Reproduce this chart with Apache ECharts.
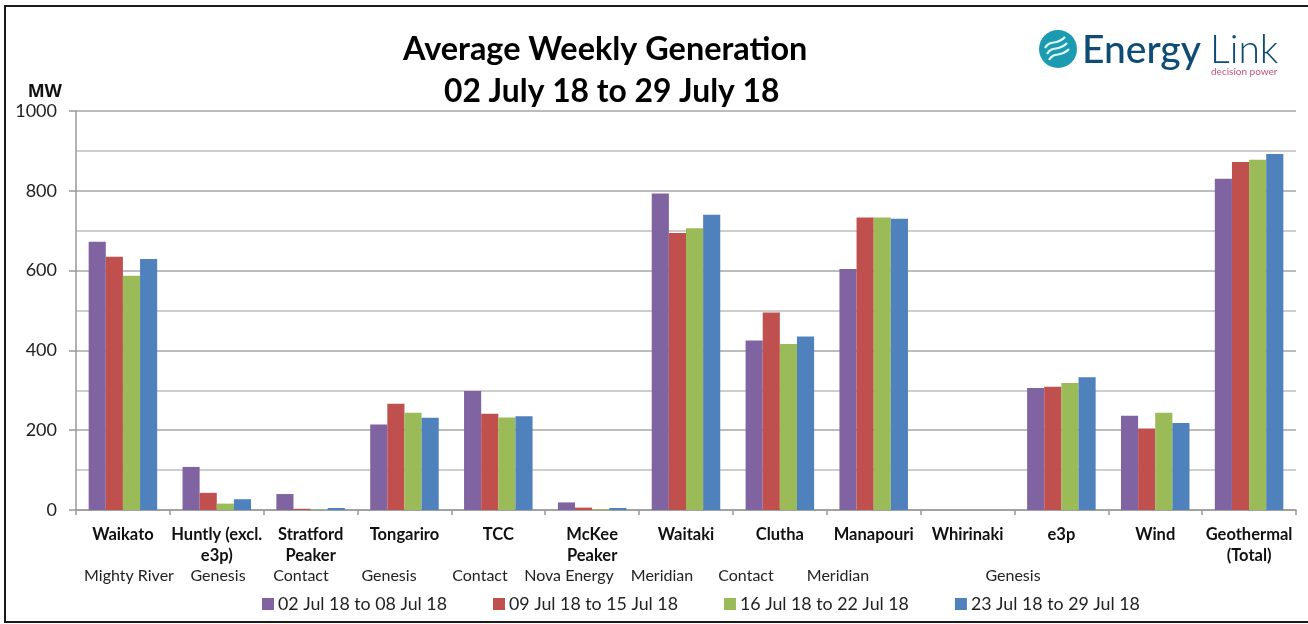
<!DOCTYPE html>
<html>
<head>
<meta charset="utf-8">
<style>
  html, body { margin: 0; padding: 0; background: #fff; }
  #chart { width: 1308px; height: 624px; }
</style>
<script src="https://cdn.jsdelivr.net/npm/echarts@6/dist/echarts.min.js"></script>
</head>
<body>
<div id="chart"></div>
<script>
const stations = ['Waikato', 'Huntly (excl.\ne3p)', 'Stratford\nPeaker', 'Tongariro', 'TCC', 'McKee\nPeaker', 'Waitaki', 'Clutha', 'Manapouri', 'Whirinaki', 'e3p', 'Wind', 'Geothermal\n(Total)']
const week1 = [672, 108, 40, 214, 298, 19, 793, 425, 604, 0, 306, 236, 830]
const week2 = [635, 43, 3, 266, 241, 6, 694, 495, 733, 0, 309, 204, 872]
const week3 = [587, 16, 1, 244, 232, 2, 706, 416, 733, 0, 318, 244, 878]
const week4 = [629, 27, 5, 231, 235, 5, 740, 435, 730, 0, 333, 218, 892]
const weekNames = ['02 Jul 18 to 08 Jul 18', '09 Jul 18 to 15 Jul 18', '16 Jul 18 to 22 Jul 18', '23 Jul 18 to 29 Jul 18']
const owners = ['Mighty River', 'Genesis', 'Contact', 'Genesis', 'Contact', 'Nova Energy', 'Meridian', 'Contact', 'Meridian', 'Genesis']
const ownerCentres = [129, 218, 301, 389, 480, 569, 662, 746, 838, 1013]

const font = 'Lato, Carlito, sans-serif'
const colors = ['#8064a2', '#c0504d', '#9bbb59', '#4f81bd']

function bars(name, values) {
    return { name: name, type: 'bar', data: values, barGap: 0, barCategoryGap: '27%' }
}

function titleLine(text, x, y, size) {
    return {
        text: text,
        left: x,
        top: y,
        textStyle: { fontFamily: font, fontSize: size, fontWeight: 'bold', color: '#000' }
    }
}

function wave(x, y) {
    return {
        type: 'bezierCurve',
        shape: { x1: x, y1: y, cpx1: x + 5, cpy1: y - 9, cpx2: x + 12, cpy2: y - 2, x2: x + 20, y2: y - 11 },
        style: { fill: 'none', stroke: '#e3f4f6', lineWidth: 2.2 }
    }
}

const ownerLabels = owners.map((o, i) => ({
    type: 'text',
    x: ownerCentres[i],
    y: 576,
    style: { text: o, font: '16px ' + font, fill: '#222', align: 'center', verticalAlign: 'middle' }
}))

// logo, top right
const logo = [
    { type: 'circle', shape: { cx: 1058, cy: 49, r: 19 }, style: { fill: '#1b9bb0' } },
    wave(1045, 48),
    wave(1047, 54),
    wave(1049, 60),
    { type: 'text', x: 1082, y: 50, style: { text: 'Energy', font: '500 39px ' + font, fill: '#0f4c75', verticalAlign: 'middle' } },
    { type: 'text', x: 1210, y: 50, style: { text: 'Link', font: '300 39px ' + font, fill: '#0f4c75', verticalAlign: 'middle' } },
    { type: 'text', x: 1211, y: 72, style: { text: 'decision power', font: '10px ' + font, fill: '#c0567a', verticalAlign: 'middle' } }
]

const chart = echarts.init(document.getElementById('chart'))
chart.setOption({
    animation: false,
    color: colors,
    textStyle: { fontFamily: font },
    title: [
        titleLine('Average Weekly Generation', 398, 29, 32.4),
        titleLine('02 July 18 to 29 July 18', 439, 71, 31.8)
    ],
    legend: {
        data: weekNames,
        left: 257,
        top: 590,
        itemWidth: 12,
        itemHeight: 12,
        itemGap: 46,
        icon: 'rect',
        textStyle: { fontFamily: font, fontSize: 17.8, color: '#222', padding: [0, 0, 0, -1] }
    },
    grid: { left: 76, right: 12, top: 111, bottom: 114 },
    xAxis: {
        type: 'category',
        data: stations,
        axisLine: { lineStyle: { color: '#999', width: 1.5 } },
        axisTick: { show: true, length: 5, alignWithLabel: false, lineStyle: { color: '#999', width: 1.5 } },
        axisLabel: { interval: 0, margin: 14, lineHeight: 21, fontFamily: font, fontSize: 16.5, fontWeight: 'bold', color: '#111' }
    },
    yAxis: {
        type: 'value',
        min: 0,
        max: 1000,
        interval: 200,
        name: 'MW',
        nameLocation: 'end',
        nameGap: 10,
        nameTextStyle: { fontFamily: 'Open Sans', fontSize: 18, fontWeight: 'bold', color: '#111', align: 'right', padding: [0, 14, 0, 0] },
        axisLine: { show: true, lineStyle: { color: '#999', width: 1.5 } },
        axisTick: { show: true, length: 7, lineStyle: { color: '#999', width: 1.5 } },
        axisLabel: { margin: 19, fontFamily: font, fontSize: 18, color: '#222', formatter: (v) => String(v) },
        splitLine: { show: true, lineStyle: { color: '#a6a6a6', width: 1.5 } },
        minorTick: { show: false, splitNumber: 2 },
        minorSplitLine: { show: true, lineStyle: { color: '#bfbfbf', width: 1.5 } }
    },
    series: [bars(weekNames[0], week1), bars(weekNames[1], week2), bars(weekNames[2], week3), bars(weekNames[3], week4)],
    graphic: [
        { type: 'rect', shape: { x: 5, y: 6, width: 1320, height: 616 }, style: { fill: 'none', stroke: '#1a1a1a', lineWidth: 2 } }
    ].concat(ownerLabels, logo)
})
</script>
</body>
</html>
